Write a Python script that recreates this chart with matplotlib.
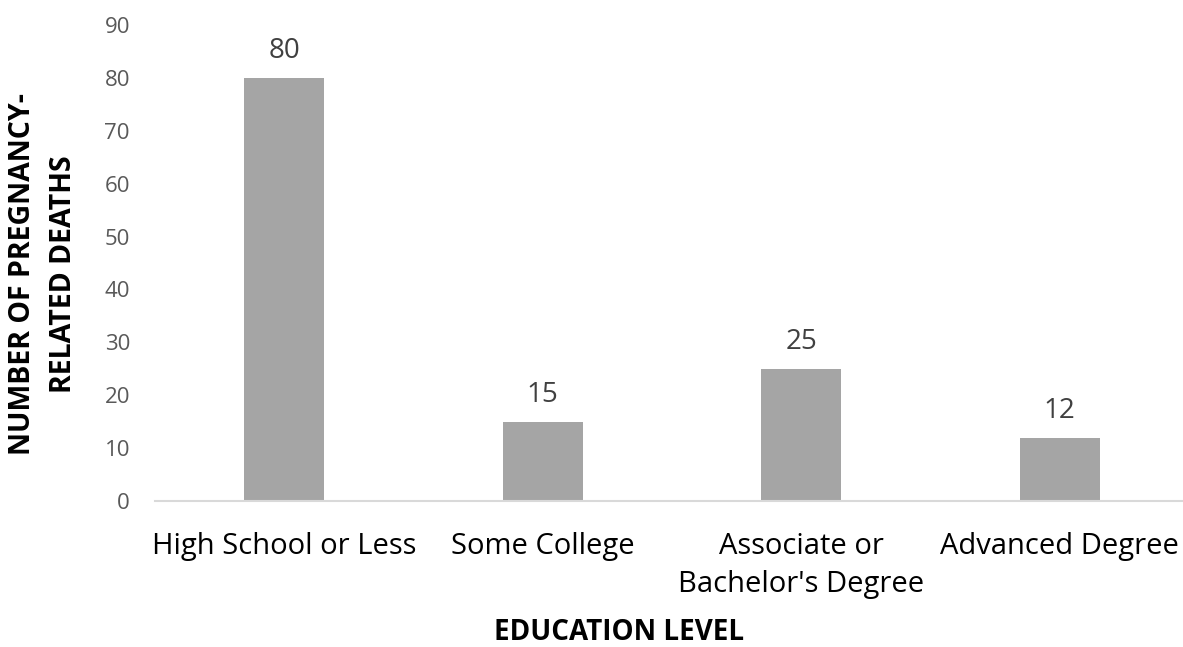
import matplotlib
matplotlib.use("Agg")
import matplotlib.pyplot as plt

levels = ["High School or Less", "Some College",
          "Associate or\nBachelor's Degree", "Advanced Degree"]
deaths = [80, 15, 25, 12]
yticks = list(range(0, 100, 10))

plt.rcParams['font.family'] = ['Open Sans', 'DejaVu Sans']

fig = plt.figure(figsize=(11.83, 6.47), dpi=100)
ax = fig.add_axes([155 / 1183, 1 - 501 / 647, (1189 - 155) / 1183, (501 - 25) / 647])

x = range(len(levels))
bars = ax.bar(x, deaths, width=0.31, color="#a5a5a5", zorder=2)

for b, v in zip(bars, deaths):
    ax.annotate(str(v), (b.get_x() + b.get_width() / 2, v),
                xytext=(0, 9), textcoords="offset points",
                ha="center", va="bottom", fontsize=20, color="#404040")

ax.set_xlim(-0.5, len(levels) - 0.5)
ax.set_ylim(0, 90)
ax.set_yticks(yticks)
ax.set_yticklabels([str(t) for t in yticks], fontsize=16, color="#595959")
ax.set_xticks(list(x))
ax.set_xticklabels(levels, fontsize=21, color="black", linespacing=1.45)
ax.tick_params(axis="both", length=0)
ax.tick_params(axis="y", pad=18)
ax.tick_params(axis="x", pad=22)

for side in ["top", "right", "left"]:
    ax.spines[side].set_visible(False)
ax.spines["bottom"].set_color("#d9d9d9")
ax.spines["bottom"].set_linewidth(1.5)

ax.set_xlabel("EDUCATION LEVEL", fontsize=20, fontweight="bold", va="center")
ax.xaxis.set_label_coords((619.5 - 155) / 1034, (501 - 633) / 476)
ax.set_ylabel("NUMBER OF PREGNANCY-\nRELATED DEATHS", fontsize=20.5,
              fontweight="bold", linespacing=1.55, va="center")
ax.yaxis.set_label_coords((43 - 155) / 1034, (501 - 274) / 476)

fig.savefig("out.png", dpi=100)
